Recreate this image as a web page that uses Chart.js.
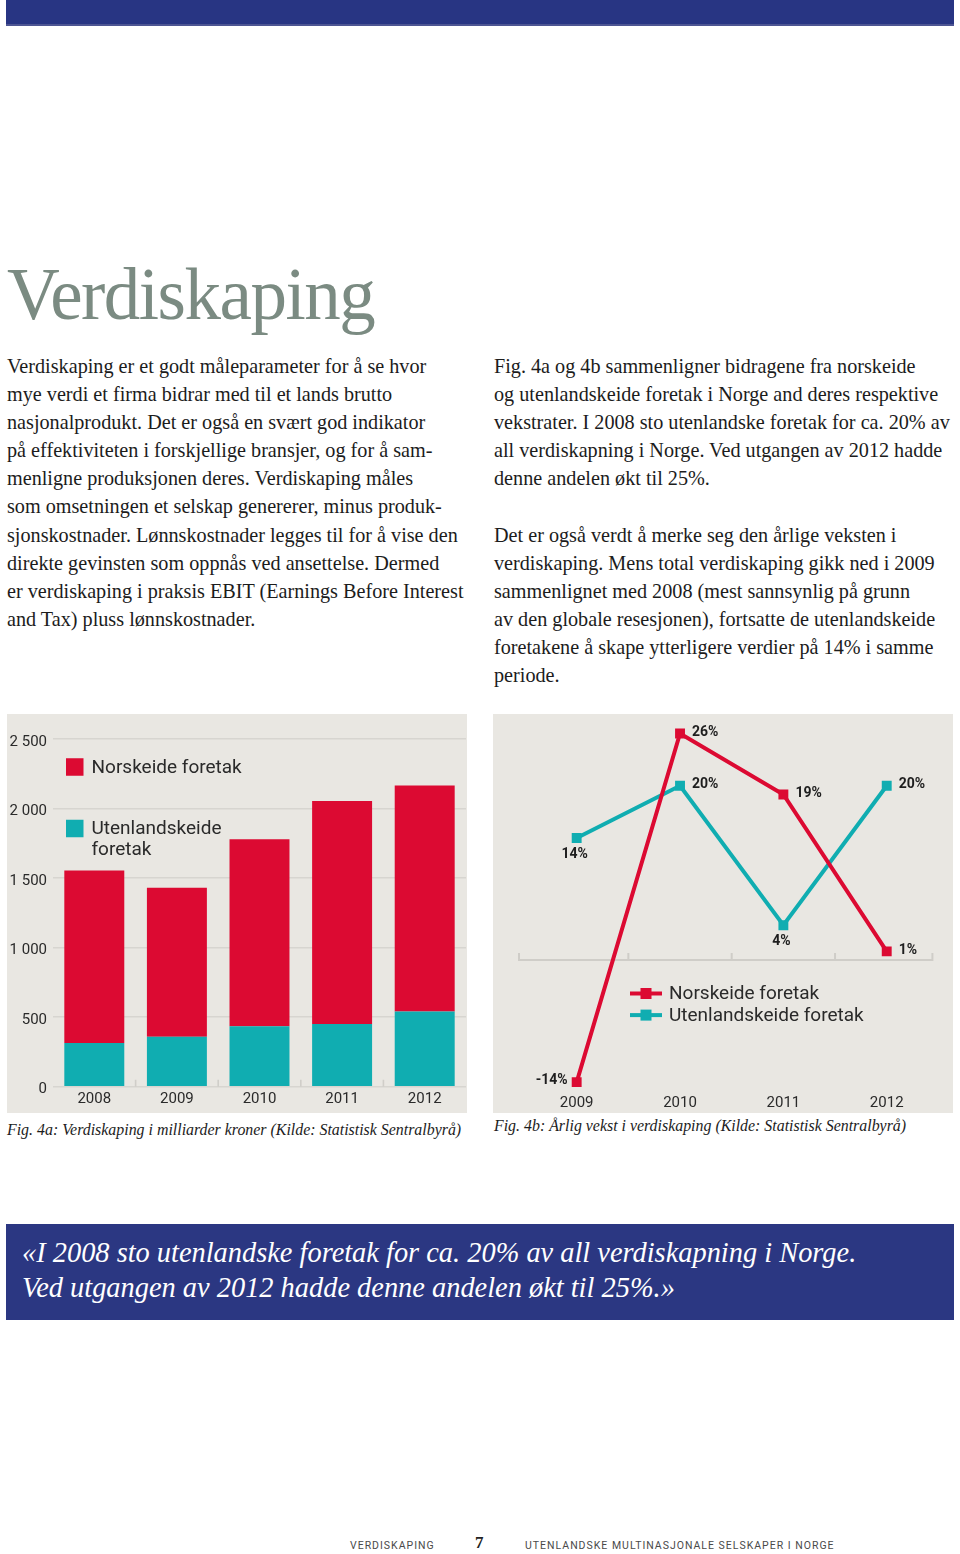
<!DOCTYPE html>
<html><head><meta charset="utf-8">
<script src="https://cdn.jsdelivr.net/npm/chart.js@4/dist/chart.umd.min.js"></script>
<style>
html,body{margin:0;padding:0;background:#fff;}
body{width:960px;height:1554px;position:relative;overflow:hidden;}
.topbar{position:absolute;left:6px;top:0;width:948px;height:24px;background:#283583;border-bottom:2px solid #4d5593;}
.title{position:absolute;left:7px;top:258px;font-family:"Liberation Serif",serif;font-size:73px;line-height:73px;color:#7b8b82;letter-spacing:-1.5px;white-space:nowrap;}
.col{position:absolute;top:352px;font-family:"Liberation Serif",serif;font-size:20.2px;line-height:28.1px;color:#1c1c1c;white-space:nowrap;}
.col div{height:28.1px;}
.panel{position:absolute;top:714px;width:460px;height:399px;background:#e9e7e2;}
.caption{position:absolute;font-family:"Liberation Serif",serif;font-style:italic;font-size:15.9px;color:#1c1c1c;white-space:nowrap;}
.quote{position:absolute;left:6px;top:1224px;width:948px;height:96px;background:#2b3782;}
.quote div{position:absolute;left:16px;font-family:"Liberation Serif",serif;font-style:italic;font-size:28.4px;color:#fff;white-space:nowrap;}
.foot{position:absolute;top:1539px;font-family:Roboto,sans-serif;font-size:10.5px;letter-spacing:1px;color:#4a4a4a;white-space:nowrap;}
.pnum{position:absolute;top:1533px;left:475px;font-family:"Liberation Serif",serif;font-weight:bold;font-size:17px;color:#222;}
</style>
</head>
<body>
<div class="topbar"></div>
<div class="title">Verdiskaping</div>
<div class="col" style="left:7px;">
<div>Verdiskaping er et godt måleparameter for å se hvor</div>
<div>mye verdi et firma bidrar med til et lands brutto</div>
<div>nasjonalprodukt. Det er også en svært god indikator</div>
<div>på effektiviteten i forskjellige bransjer, og for å sam-</div>
<div>menligne produksjonen deres. Verdiskaping måles</div>
<div>som omsetningen et selskap genererer, minus produk-</div>
<div>sjonskostnader. Lønnskostnader legges til for å vise den</div>
<div>direkte gevinsten som oppnås ved ansettelse. Dermed</div>
<div>er verdiskaping i praksis EBIT (Earnings Before Interest</div>
<div>and Tax) pluss lønnskostnader.</div>
</div>
<div class="col" style="left:494px;">
<div>Fig. 4a og 4b sammenligner bidragene fra norskeide</div>
<div>og utenlandskeide foretak i Norge and deres respektive</div>
<div>vekstrater. I 2008 sto utenlandske foretak for ca. 20% av</div>
<div>all verdiskapning i Norge. Ved utgangen av 2012 hadde</div>
<div>denne andelen økt til 25%.</div>
<div></div>
<div>Det er også verdt å merke seg den årlige veksten i</div>
<div>verdiskaping. Mens total verdiskaping gikk ned i 2009</div>
<div>sammenlignet med 2008 (mest sannsynlig på grunn</div>
<div>av den globale resesjonen), fortsatte de utenlandskeide</div>
<div>foretakene å skape ytterligere verdier på 14% i samme</div>
<div>periode.</div>
</div>

<div class="panel" style="left:7px;"><canvas id="c1" width="460" height="399"></canvas></div>
<div class="panel" style="left:493px;"><canvas id="c2" width="460" height="399"></canvas></div>
<div class="caption" style="left:7px;top:1121px;">Fig. 4a: Verdiskaping i milliarder kroner (Kilde: Statistisk Sentralbyrå)</div>
<div class="caption" style="left:494px;top:1117px;">Fig. 4b: Årlig vekst i verdiskaping (Kilde: Statistisk Sentralbyrå)</div>

<div class="quote">
<div style="top:13px;">«I 2008 sto utenlandske foretak for ca. 20% av all verdiskapning i Norge.</div>
<div style="top:48px;">Ved utgangen av 2012 hadde denne andelen økt til 25%.»</div>
</div>

<div class="foot" style="left:350px;">VERDISKAPING</div>
<div class="pnum">7</div>
<div class="foot" style="left:525px;">UTENLANDSKE MULTINASJONALE SELSKAPER I NORGE</div>

<script>
// ---- Data: Fig. 4a ----
const years1 = ['2008', '2009', '2010', '2011', '2012'];
const norskeide1 = [1240, 1070, 1345, 1605, 1625];
const utenlandske1 = [315, 360, 435, 450, 540];
const yTickLabels1 = ['0', '500', '1 000', '1 500', '2 000', '2 500'];
const seriesNames = ['Norskeide foretak', 'Utenlandskeide foretak'];

// ---- Data: Fig. 4b ----
const years2 = ['2009', '2010', '2011', '2012'];
const norskeideVekst = [-14, 26, 19, 1];
const utenlandskeVekst = [14, 20, 4, 20];

const RED = '#dc0a32';
const TEAL = '#10adb1';
const TXT = '#2a2a2a';
const FONT = 'Roboto, "DejaVu Sans", sans-serif';

// legend with boxes drawn inside plot (Fig 4a)
const boxLegend = {
  id: 'boxLegend',
  afterDraw(chart, args, o) {
    const ctx = chart.ctx;
    ctx.save();
    ctx.font = o.font;
    ctx.textBaseline = 'middle';
    let y = o.y;
    chart.data.datasets.forEach(ds => {
      ctx.fillStyle = ds.backgroundColor;
      ctx.fillRect(o.x, y - o.box / 2, o.box, o.box);
      const words = ds.label.split(' ');
      const lines = [];
      let cur = '';
      words.forEach(w => {
        const t = cur ? cur + ' ' + w : w;
        if (ctx.measureText(t).width > o.maxWidth && cur) { lines.push(cur); cur = w; } else cur = t;
      });
      lines.push(cur);
      ctx.fillStyle = o.color;
      lines.forEach((ln, i) => ctx.fillText(ln, o.x + o.box + 8, y + 1 + i * o.lineH));
      y += o.gap;
    });
    ctx.restore();
  }
};

// small ticks on the base line between categories (Fig 4a)
const baseTicks = {
  id: 'baseTicks',
  beforeDatasetsDraw(chart, args, o) {
    const {ctx, scales: {x, y}} = chart;
    const y0 = y.getPixelForValue(0);
    ctx.save();
    ctx.strokeStyle = o.color;
    ctx.lineWidth = o.width;
    ctx.beginPath();
    for (let i = 0; i < x.ticks.length - 1; i++) {
      const bx = (x.getPixelForTick(i) + x.getPixelForTick(i + 1)) / 2;
      ctx.moveTo(bx, y0);
      ctx.lineTo(bx, y0 - o.len);
    }
    ctx.stroke();
    ctx.restore();
  }
};

new Chart(document.getElementById('c1'), {
  type: 'bar',
  data: {
    labels: years1,
    datasets: [
      {label: seriesNames[0], data: norskeide1, backgroundColor: RED, order: 2},
      {label: seriesNames[1], data: utenlandske1, backgroundColor: TEAL, order: 1}
    ]
  },
  options: {
    responsive: false,
    animation: false,
    events: [],
    layout: {padding: {top: 25, right: 1, left: 0, bottom: 0}},
    barPercentage: 0.726,
    categoryPercentage: 1,
    scales: {
      x: {
        stacked: true,
        grid: {display: false, drawTicks: false},
        border: {display: false},
        ticks: {color: TXT, font: {family: FONT, size: 15}, padding: 4},
        afterFit(s) { s.height = 26.3; }
      },
      y: {
        stacked: true,
        min: 0, max: 2500,
        grid: {color: '#d7d5d0', lineWidth: 1.6, drawTicks: false},
        border: {display: false},
        ticks: {
          stepSize: 500, color: TXT, font: {family: FONT, size: 15}, padding: 6, labelOffset: 3,
          callback: (v, i) => yTickLabels1[i]
        },
        afterFit(s) { s.width = 46; }
      }
    },
    plugins: {
      legend: {display: false},
      tooltip: {enabled: false},
      boxLegend: {x: 59, y: 53, box: 17.5, gap: 61.5, lineH: 21, maxWidth: 170, font: '19px ' + FONT, color: TXT},
      baseTicks: {color: '#d0cec9', width: 1.6, len: 7}
    }
  },
  plugins: [boxLegend, baseTicks]
});

// ---- Fig 4b plugins ----
const zeroAxis = {
  id: 'zeroAxis',
  beforeDatasetsDraw(chart, args, o) {
    const {ctx, chartArea: a, scales: {x, y}} = chart;
    const y0 = y.getPixelForValue(0);
    const n = x.ticks.length;
    const xs = [a.left - 6];
    for (let i = 0; i < n - 1; i++) xs.push((x.getPixelForTick(i) + x.getPixelForTick(i + 1)) / 2);
    xs.push(a.right - 6);
    ctx.save();
    ctx.strokeStyle = o.color;
    ctx.lineWidth = o.width;
    ctx.beginPath();
    ctx.moveTo(xs[0], y0);
    ctx.lineTo(xs[xs.length - 1], y0);
    xs.forEach(bx => { ctx.moveTo(bx, y0 + 1); ctx.lineTo(bx, y0 - o.len); });
    ctx.stroke();
    ctx.restore();
  }
};

const pctLabels = {
  id: 'pctLabels',
  afterDatasetsDraw(chart, args, o) {
    const ctx = chart.ctx;
    ctx.save();
    ctx.font = o.font;
    ctx.fillStyle = o.color;
    ctx.textBaseline = 'middle';
    chart.data.datasets.forEach((ds, di) => {
      const meta = chart.getDatasetMeta(di);
      meta.data.forEach((pt, i) => {
        const txt = ds.data[i] + '%';
        const pos = ds.labelPos[i];
        if (pos === 'right') { ctx.textAlign = 'left'; ctx.fillText(txt, pt.x + 12, pt.y - 1); }
        else if (pos === 'left') { ctx.textAlign = 'right'; ctx.fillText(txt, pt.x - 9, pt.y - 2); }
        else { ctx.textAlign = 'center'; ctx.fillText(txt, pt.x - 2, pt.y + 16); }
      });
    });
    ctx.restore();
  }
};

const lineLegend = {
  id: 'lineLegend',
  afterDraw(chart, args, o) {
    const ctx = chart.ctx;
    ctx.save();
    ctx.font = o.font;
    ctx.textBaseline = 'middle';
    chart.data.datasets.forEach((ds, i) => {
      const y = o.y + i * o.gap;
      ctx.strokeStyle = ds.borderColor;
      ctx.lineWidth = 4;
      ctx.beginPath();
      ctx.moveTo(o.x, y);
      ctx.lineTo(o.x + o.len, y);
      ctx.stroke();
      ctx.fillStyle = ds.borderColor;
      ctx.fillRect(o.x + o.len / 2 - o.box / 2, y - o.box / 2, o.box, o.box);
      ctx.fillStyle = o.color;
      ctx.fillText(ds.label, o.x + o.len + 7, y + 1);
    });
    ctx.restore();
  }
};

new Chart(document.getElementById('c2'), {
  type: 'line',
  data: {
    labels: years2,
    datasets: [
      {label: seriesNames[0], data: norskeideVekst, borderColor: RED, backgroundColor: RED,
       pointBackgroundColor: RED, pointBorderColor: RED, labelPos: ['left', 'right', 'right', 'right']},
      {label: seriesNames[1], data: utenlandskeVekst, borderColor: TEAL, backgroundColor: TEAL,
       pointBackgroundColor: TEAL, pointBorderColor: TEAL, labelPos: ['below', 'right', 'below', 'right']}
    ]
  },
  options: {
    responsive: false,
    animation: false,
    events: [],
    layout: {padding: {top: 9, right: 14.6, left: 32, bottom: 0}},
    elements: {
      line: {borderWidth: 4, tension: 0},
      point: {pointStyle: 'rect', radius: 7, borderWidth: 0}
    },
    scales: {
      x: {
        offset: true,
        grid: {display: false, drawTicks: false},
        border: {display: false},
        ticks: {color: TXT, font: {family: FONT, size: 15}, padding: 1},
        afterFit(s) { s.height = 20; }
      },
      y: {
        display: false,
        min: -15.25, max: 27.2
      }
    },
    plugins: {
      legend: {display: false},
      tooltip: {enabled: false},
      zeroAxis: {color: '#cfcdc8', width: 2, len: 7},
      pctLabels: {font: 'bold 14px ' + FONT, color: '#1e1e1e'},
      lineLegend: {x: 137, y: 279.5, gap: 21.6, len: 32, box: 11, font: '19px ' + FONT, color: TXT}
    }
  },
  plugins: [zeroAxis, pctLabels, lineLegend]
});
</script>
</body></html>
